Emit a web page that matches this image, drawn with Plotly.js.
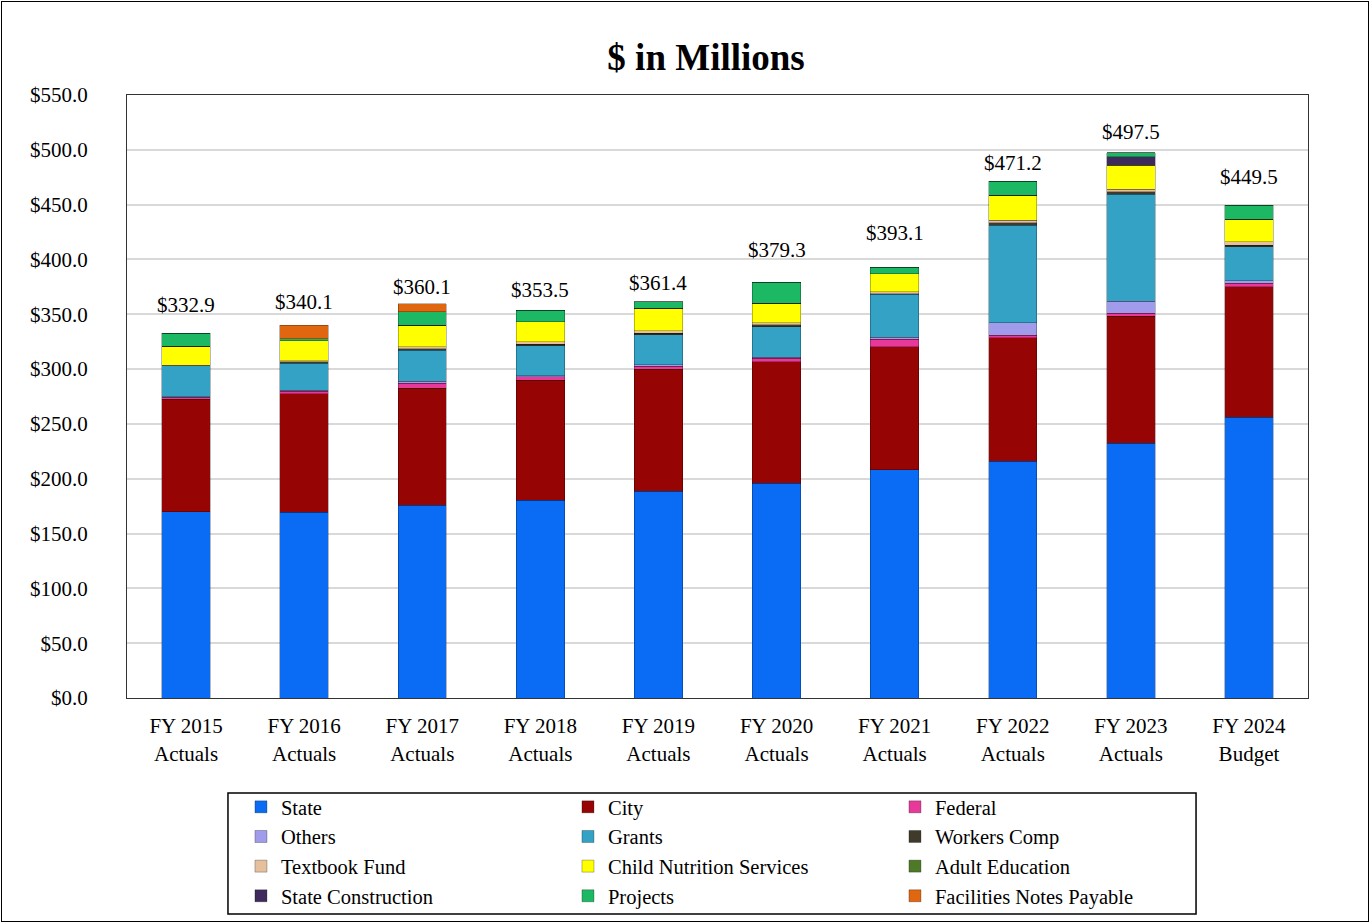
<!DOCTYPE html>
<html>
<head>
<meta charset="utf-8">
<script src="https://cdn.plot.ly/plotly-3.0.1.min.js"></script>
<style>
  html, body { margin: 0; padding: 0; background: #fff; }
  #wrap { position: relative; width: 1371px; height: 924px; }
  #chart { width: 1371px; height: 924px; }
  #frame { position: absolute; left: 1px; top: 1px; width: 1366px; height: 919px; border: 1.5px solid #000; pointer-events: none; }
</style>
</head>
<body>
<div id="wrap"><div id="chart"></div><div id="frame"></div></div>
<script>
const categories = ["FY 2015<br>Actuals","FY 2016<br>Actuals","FY 2017<br>Actuals","FY 2018<br>Actuals","FY 2019<br>Actuals","FY 2020<br>Actuals","FY 2021<br>Actuals","FY 2022<br>Actuals","FY 2023<br>Actuals","FY 2024<br>Budget"];

const seriesNames = ["State","City","Federal","Others","Grants","Workers Comp","Textbook Fund","Child Nutrition Services","Adult Education","State Construction","Projects","Facilities Notes Payable"];

const state       = [169.8, 169.4, 175.7, 180.6, 188.8, 195.8, 208.0, 215.9, 232.3, 256.0];
const city        = [102.6, 107.9, 106.7, 109.4, 111.0, 110.9, 112.4, 112.7, 116.1, 119.1];
const federal     = [2.0, 2.4, 4.6, 3.0, 3.0, 3.0, 6.7, 2.4, 2.4, 3.0];
const others      = [0.5, 1.2, 2.1, 1.0, 1.0, 1.0, 1.8, 11.2, 11.2, 2.4];
const grants      = [28.0, 24.3, 28.0, 27.4, 27.4, 28.0, 39.5, 89.1, 97.6, 31.0];
const workersComp = [0.3, 1.4, 1.5, 1.2, 1.6, 1.6, 0.5, 2.0, 2.0, 1.6];
const textbook    = [0.5, 1.0, 2.0, 2.4, 2.0, 2.0, 1.5, 2.6, 2.3, 3.0];
const childNutrition = [17.2, 18.2, 19.4, 18.2, 20.7, 17.7, 16.7, 22.8, 22.2, 20.7];
const adultEducation = [0, 0, 0, 0, 0, 0, 0, 0, 0, 0];
const stateConstruction = [0, 0, 0, 0, 0, 0, 0, 0, 7.6, 0];
const projects    = [12.0, 2.1, 12.1, 10.3, 5.9, 19.3, 6.0, 12.5, 3.8, 12.7];
const facilities  = [0, 12.2, 7.6, 0, 0, 0, 0, 0, 0, 0];

const totals = [332.9, 340.1, 360.1, 353.5, 361.4, 379.3, 393.1, 471.2, 497.5, 449.5];
const totalLabels = ["$332.9","$340.1","$360.1","$353.5","$361.4","$379.3","$393.1","$471.2","$497.5","$449.5"];

// styling (label pixel nudges, as in the original)
const labelShift = [28, 23, 16, 20, 19, 32, 34, 18, 21, 28];
const colors = ["#0A6CF5","#960404","#E8399A","#A09CEB","#33A2C4","#3F3A2C","#E6C09C","#FFFF00","#4E7A28","#3E2A5C","#1DB863","#E0660F"];

const seriesValues = [state, city, federal, others, grants, workersComp, textbook, childNutrition, adultEducation, stateConstruction, projects, facilities];

const traces = seriesNames.map((name, i) => ({
  type: "bar",
  name: name,
  x: categories,
  y: seriesValues[i],
  marker: { color: colors[i], line: { color: "rgba(0,0,0,0.45)", width: 0.6 } },
  hoverinfo: "name+y"
}));

const font = "Liberation Serif, Times New Roman, serif";

const annotations = categories.map((c, i) => ({
  x: c, y: totals[i], xref: "x", yref: "y",
  text: totalLabels[i], showarrow: false,
  yanchor: "middle", yshift: labelShift[i],
  font: { family: font, size: 21, color: "#000" }
}));

const layout = {
  width: 1371, height: 924,
  barmode: "stack",
  bargap: 0.59,
  paper_bgcolor: "#fff",
  plot_bgcolor: "#fff",
  margin: { l: 127, r: 63, t: 95, b: 226, autoexpand: false },
  title: { text: "<b>$ in Millions</b>", font: { family: font, size: 37, color: "#000" }, x: 0.515, xanchor: "center", y: 0.938, yanchor: "middle" },
  font: { family: font, color: "#000" },
  xaxis: {
    type: "category",
    showline: true, mirror: true, linecolor: "#333", linewidth: 1,
    tickfont: { family: font, size: 21, color: "#000" },
    ticks: "", showgrid: false,
    ticklabelstandoff: 9,
    automargin: false
  },
  yaxis: {
    range: [0, 550], dtick: 50, tick0: 0,
    tickprefix: "$", tickformat: ".1f",
    showline: true, mirror: true, linecolor: "#333", linewidth: 1,
    gridcolor: "#D9D9D9", gridwidth: 1.5,
    zeroline: false,
    tickfont: { family: font, size: 21, color: "#000" },
    ticks: "",
    ticklabelstandoff: 34,
    automargin: false
  },
  showlegend: true,
  legend: {
    orientation: "h",
    x: 0.0965, xanchor: "left",
    y: -0.1476, yanchor: "top",
    entrywidth: 282, entrywidthmode: "pixels",
    borderwidth: 0,
    bgcolor: "rgba(255,255,255,0)",
    font: { family: font, size: 20.5, color: "#000" },
    traceorder: "normal"
  },
  shapes: [{
    type: "rect", xref: "paper", yref: "paper",
    x0: 0.0855, x1: 0.9052, y0: -0.3582, y1: -0.1575,
    line: { color: "#000", width: 1.5 }, fillcolor: "rgba(0,0,0,0)", layer: "below"
  }],
  annotations: annotations
};

Plotly.newPlot("chart", traces, layout, { displayModeBar: false });
</script>
</body>
</html>
